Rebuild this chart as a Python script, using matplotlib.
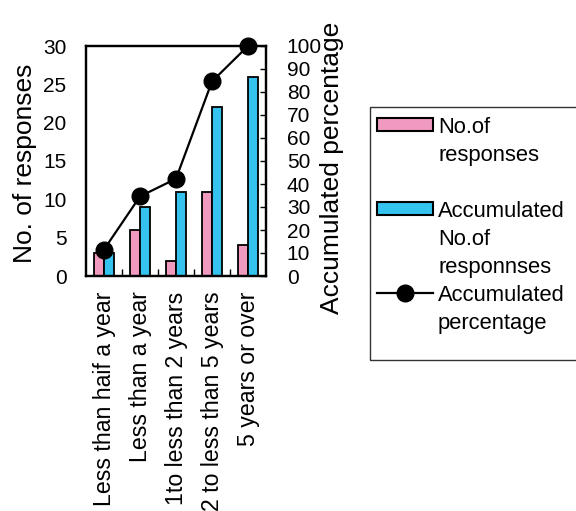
import matplotlib
matplotlib.use("Agg")
import matplotlib.pyplot as plt
import numpy as np
from matplotlib.patches import Rectangle

plt.rcParams["font.family"] = ["Liberation Sans", "DejaVu Sans"]

# ── Data ─────────────────────────────────────────────
categories = [
    "Less than haif a year",
    "Less than a year",
    "1to less than 2 years",
    "2 to less than 5 years",
    "5 years or over",
]
responses = [3, 6, 2, 11, 4]
accumulated = [3, 9, 11, 22, 26]
accum_pct = [11.5, 34.6, 42.3, 84.6, 100.0]

legend_labels = [
    "No.of\nresponses",
    "Accumulated\nNo.of\nresponnses",
    "Accumulated\npercentage",
]

PINK = "#F09AC0"
BLUE = "#33C3EE"

W, H = 576, 511
fig = plt.figure(figsize=(W / 100, H / 100), dpi=100)
ax = fig.add_axes([86 / W, 1 - 276 / H, 180 / W, 230 / H])
ax2 = ax.twinx()

x = np.arange(len(categories))
bw = 0.27
ax.bar(x - bw / 2, responses, bw, color=PINK, edgecolor="black", linewidth=1.3)
ax.bar(x + bw / 2, accumulated, bw, color=BLUE, edgecolor="black", linewidth=1.3)
ax2.plot(x, accum_pct, color="black", lw=1.6, marker="o", markersize=12,
         clip_on=False, zorder=5)

ax.set_xlim(-0.5, len(categories) - 0.5)
ax.set_ylim(0, 30)
ax2.set_ylim(0, 100)

# left axis
ax.set_yticks(range(0, 31, 5))
ax.tick_params(axis="y", length=0, pad=14, labelsize=15)
# bottom axis: ticks between categories, pointing in
ax.set_xticks(x)
ax.set_xticklabels(categories, rotation=90, fontsize=16.7, va="top", ha="center")
ax.tick_params(axis="x", which="major", length=0, pad=11)
ax.set_xticks(np.arange(0.5, len(categories) - 0.5), minor=True)
ax.tick_params(axis="x", which="minor", direction="in", length=5, width=1)
# right axis
ax2.set_yticks(range(0, 101, 10))
ax2.tick_params(axis="y", direction="in", length=4, width=1, pad=15, labelsize=15)

for a in (ax, ax2):
    for s in a.spines.values():
        s.set_linewidth(1.6)

ax.set_ylabel("No. of responses", fontsize=19)
ax.yaxis.set_label_coords(-0.27, 0.49)
ax2.set_ylabel("Accumulated percentage", fontsize=19)
ax2.yaxis.set_label_coords(1.30, 0.47)

# ── Legend box drawn in pixel units ──────────────────
lax = fig.add_axes([370 / W, 1 - 360 / H, 220 / W, 253 / H])
lax.set_xlim(0, 220)
lax.set_ylim(253, 0)
lax.axis("off")
lax.add_patch(Rectangle((0, 0), 220, 253, fill=False, edgecolor="#333333",
                        lw=1.0, clip_on=False))
lax.add_patch(Rectangle((7, 11), 56, 13, facecolor=PINK, edgecolor="black", lw=1.5))
lax.add_patch(Rectangle((7, 95), 56, 13, facecolor=BLUE, edgecolor="black", lw=1.5))
lax.plot([7, 63], [186, 186], color="black", lw=1.6)
lax.plot([35], [186], "o", color="black", markersize=12)
for lbl, ytop in zip(legend_labels, [10, 94, 178]):
    lax.text(68, ytop, lbl, fontsize=15.8, va="top", ha="left", linespacing=1.45)

fig.savefig("out.png", dpi=100)
